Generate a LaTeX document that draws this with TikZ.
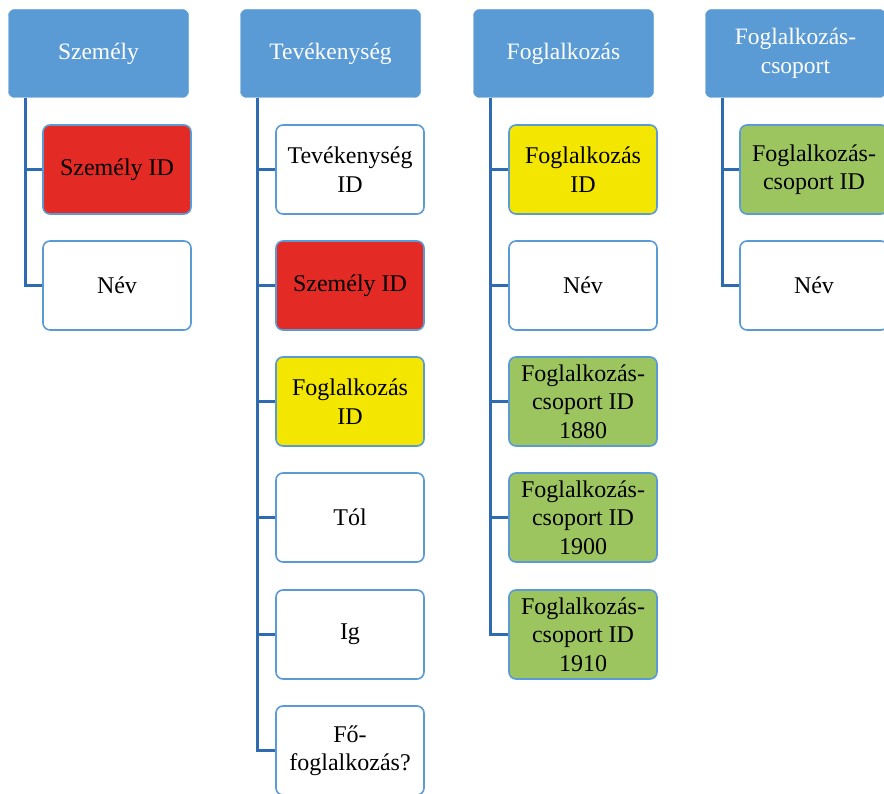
\documentclass[tikz,border=0pt]{standalone}
\usepackage{fontspec}
\setmainfont{Liberation Serif}
\definecolor{hdrblue}{HTML}{5B9BD5}
\definecolor{bordblue}{HTML}{5B9BD5}
\definecolor{connblue}{HTML}{2E6BB0}
\definecolor{cred}{HTML}{E32A25}
\definecolor{cyellow}{HTML}{F3E600}
\definecolor{cgreen}{HTML}{9CC560}
\begin{document}
\begin{tikzpicture}[x=1pt,y=-1pt,
  hdr/.style={fill=hdrblue, draw=hdrblue, rounded corners=6pt, minimum width=180pt, minimum height=88pt, align=center, inner sep=0pt, text=white, font=\fontsize{23.5}{29}\selectfont},
  itembox/.style={draw=bordblue, fill=white, line width=1.6pt, rounded corners=7pt, minimum width=148pt, minimum height=89pt, align=center, inner sep=0pt, font=\fontsize{24}{28.5}\selectfont},
  redbox/.style={itembox, fill=cred},
  yelbox/.style={itembox, fill=cyellow},
  grnbox/.style={itembox, fill=cgreen},
  conn/.style={draw=connblue, line width=2.4pt}]
\useasboundingbox (0,0) rectangle (884,794);
% headers
\node[hdr] (h1) at (98.5,53.5) {Személy};
\node[hdr] (h2) at (330.5,53.5) {Tevékenység};
\node[hdr] (h3) at (563.5,53.5) {Foglalkozás};
\node[hdr] (h4) at (795.5,53.5) {Foglalkozás-\\csoport};
% column 1
\node[redbox] (a1) at (117,169.5) {Személy ID};
\node[itembox] (a2) at (117,285.5) {Név};
% column 2
\node[itembox] (b1) at (350,169.5) {Tevékenység\\ID};
\node[redbox] (b2) at (350,285.5) {Személy ID};
\node[yelbox] (b3) at (350,401.5) {Foglalkozás\\ID};
\node[itembox] (b4) at (350,517.5) {Tól};
\node[itembox] (b5) at (350,634.5) {Ig};
\node[itembox] (b6) at (350,750.5) {Fő-\\foglalkozás?};
% column 3
\node[yelbox] (c1) at (583,169.5) {Foglalkozás\\ID};
\node[itembox] (c2) at (583,285.5) {Név};
\node[grnbox] (c3) at (583,401.5) {Foglalkozás-\\csoport ID\\1880};
\node[grnbox] (c4) at (583,517.5) {Foglalkozás-\\csoport ID\\1900};
\node[grnbox] (c5) at (583,634.5) {Foglalkozás-\\csoport ID\\1910};
% column 4
\node[grnbox] (d1) at (814,169.5) {Foglalkozás-\\csoport ID};
\node[itembox] (d2) at (814,285.5) {Név};
% connectors
\foreach \c in {a1,a2}{\draw[conn] ([xshift=17pt]h1.south west) |- (\c.west);}
\foreach \c in {b1,b2,b3,b4,b5,b6}{\draw[conn] ([xshift=17pt]h2.south west) |- (\c.west);}
\foreach \c in {c1,c2,c3,c4,c5}{\draw[conn] ([xshift=17pt]h3.south west) |- (\c.west);}
\foreach \c in {d1,d2}{\draw[conn] ([xshift=17pt]h4.south west) |- (\c.west);}
\end{tikzpicture}
\end{document}
